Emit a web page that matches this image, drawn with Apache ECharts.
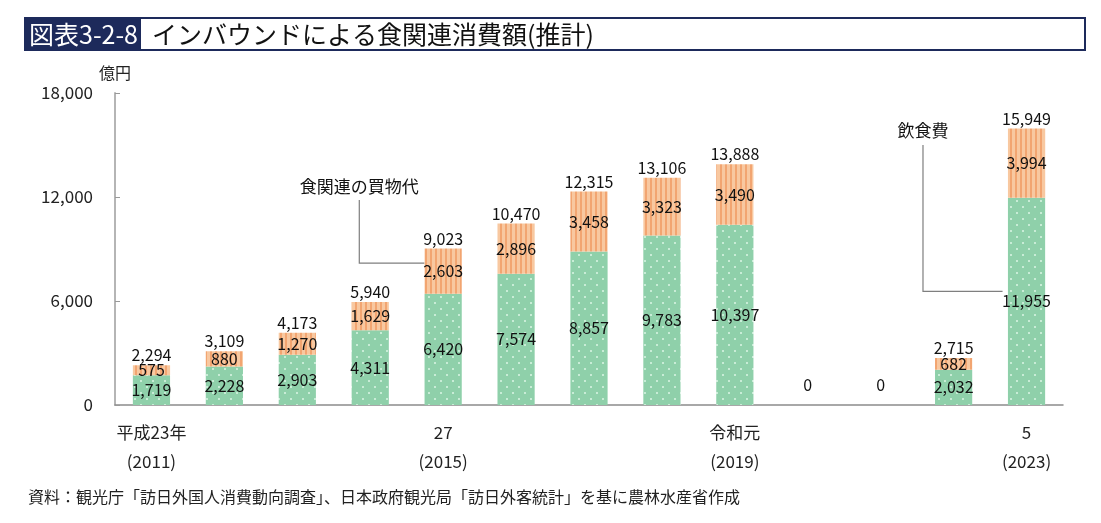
<!DOCTYPE html>
<html><head><meta charset="utf-8">
<script src="https://cdn.jsdelivr.net/npm/echarts@6/dist/echarts.min.js"></script>
<style>html,body{margin:0;padding:0;background:#fff}#c{width:1101px;height:523px}</style>
</head><body><div id="c"></div>
<script>
const years = ['2011','2012','2013','2014','2015','2016','2017','2018','2019','2020','2021','2022','2023'];
const tickLabels = {'2011':'平成23年\n(2011)','2015':'27\n(2015)','2019':'令和元\n(2019)','2023':'5\n(2023)'};
const food = [1719,2228,2903,4311,6420,7574,8857,9783,10397,0,0,2032,11955];
const shopping = [575,880,1270,1629,2603,2896,3458,3323,3490,0,0,682,3994];
const totals = [2294,3109,4173,5940,9023,10470,12315,13106,13888,0,0,2715,15949];
const yTicks = [0,6000,12000,18000];

const FONT = '"Noto Sans CJK JP", "Noto Sans", sans-serif';

function makePattern(type){
  const c = document.createElement('canvas');
  const ctx = c.getContext('2d');
  if(type==='dots'){
    c.width=12; c.height=12;
    ctx.fillStyle='#8fd0aa'; ctx.fillRect(0,0,12,12);
    ctx.fillStyle='#c8ecd6';
    ctx.fillRect(2,2,2,2); ctx.fillRect(8,8,2,2);
  } else {
    c.width=5; c.height=10;
    ctx.fillStyle='#f8c8a0'; ctx.fillRect(0,0,5,10);
    ctx.fillStyle='#f2a571'; ctx.fillRect(0,0,2,10);
  }
  return {image:c, repeat:'repeat'};
}

const fmt = v => v.toLocaleString('en-US');
const chart = echarts.init(document.getElementById('c'), null, {renderer:'canvas'});

const option = {
  animation:false,
  textStyle:{fontFamily:FONT},
  grid:{left:115,right:38,top:93,bottom:118,containLabel:false},
  xAxis:{
    type:'category', data:years,
    axisLine:{lineStyle:{color:'#8c8c8c',width:1.5}},
    axisTick:{show:false},
    axisLabel:{interval:0,color:'#222',fontSize:17,lineHeight:29,margin:13,
      formatter:v=>tickLabels[v]||''}
  },
  yAxis:{
    type:'value', min:0, max:18000, interval:6000,
    name:'億円', nameLocation:'end', nameGap:12,
    nameTextStyle:{color:'#222',fontSize:16,align:'center'},
    axisLine:{show:true,lineStyle:{color:'#b5b5b5',width:2}},
    axisTick:{show:true,inside:true,length:5,lineStyle:{color:'#999'}},
    splitLine:{show:false},
    axisLabel:{color:'#222',fontSize:17,margin:22,formatter:v=>fmt(v)}
  },
  series:[
    {name:'飲食費',type:'bar',stack:'t',barWidth:'51%',data:food,
     itemStyle:{color:makePattern('dots')},
     label:{show:true,position:'inside',color:'#111',fontSize:16,
       formatter:p=>p.value?fmt(p.value):''}},
    {name:'食関連の買物代',type:'bar',stack:'t',data:shopping,
     itemStyle:{color:makePattern('stripes')},
     label:{show:true,position:'inside',color:'#111',fontSize:16,
       formatter:p=>p.value?fmt(p.value):''}},
    {name:'total',type:'bar',barGap:'-100%',barWidth:'51%',
     data:totals.map(v=>v===0?{value:v,label:{distance:12}}:v),
     itemStyle:{color:'rgba(0,0,0,0)'},z:1,silent:true,
     label:{show:true,position:'top',distance:2,color:'#111',fontSize:16,
       formatter:p=>fmt(p.value)}}
  ]
};
chart.setOption(option);

// annotation callouts placed via the chart's own coordinate conversion
const band = chart.convertToPixel({xAxisIndex:0},years[1]) - chart.convertToPixel({xAxisIndex:0},years[0]);
const px = (i,v)=>chart.convertToPixel({xAxisIndex:0,yAxisIndex:0},[years[i],v]);
const pShopMid = px(4, food[4]+shopping[4]/2);
const pShopAnchorX = px(3,0)[0] - band*0.15;
const pFoodMid = px(12, food[12]/2);
const pFoodAnchorX = px(11,0)[0] - band*0.42;
const lineStyle = {stroke:'#7f7f7f',lineWidth:1.2};
const barHalf = band*0.255;

chart.setOption({graphic:[
  // title box
  {type:'rect',shape:{x:25,y:18,width:1060,height:32},style:{fill:'#fff',stroke:'#1d2a5b',lineWidth:2}},
  {type:'rect',shape:{x:25,y:18,width:116,height:32},style:{fill:'#1d2a5b'}},
  {type:'text',x:29,y:34,style:{text:'図表3-2-8',fill:'#fff',font:'25px '+FONT,textVerticalAlign:'middle'}},
  {type:'text',x:152,y:34,style:{text:'インバウンドによる食関連消費額(推計)',fill:'#111',font:'25px '+FONT,textVerticalAlign:'middle'}},
  // callout: 食関連の買物代
  {type:'polyline',shape:{points:[[pShopAnchorX,200],[pShopAnchorX,pShopMid[1]-8],[pShopMid[0]-barHalf,pShopMid[1]-8]]},style:lineStyle},
  {type:'text',x:pShopAnchorX,y:187,style:{text:'食関連の買物代',fill:'#111',font:'17px '+FONT,textAlign:'center',textVerticalAlign:'middle'}},
  // callout: 飲食費
  {type:'polyline',shape:{points:[[pFoodAnchorX,145],[pFoodAnchorX,pFoodMid[1]-10],[pFoodMid[0]-24,pFoodMid[1]-10]]},style:lineStyle},
  {type:'text',x:pFoodAnchorX,y:131,style:{text:'飲食費',fill:'#111',font:'17px '+FONT,textAlign:'center',textVerticalAlign:'middle'}},
  // source
  {type:'text',x:28,y:497,style:{text:'資料：観光庁「訪日外国人消費動向調査」、日本政府観光局「訪日外客統計」を基に農林水産省作成',fill:'#222',font:'16px '+FONT,textVerticalAlign:'middle'}}
]});
</script></body></html>
